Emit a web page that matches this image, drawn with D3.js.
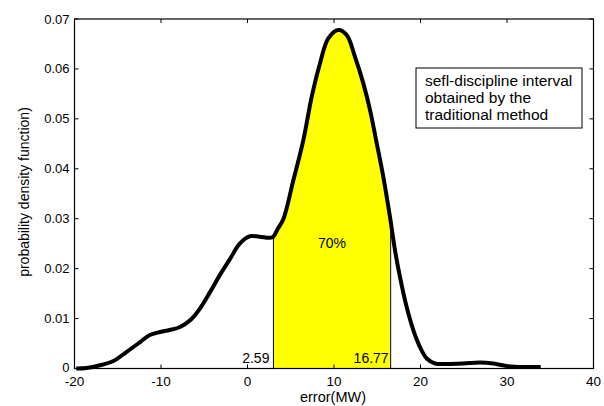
<!DOCTYPE html>
<html><head><meta charset="utf-8">
<script src="https://cdn.jsdelivr.net/npm/d3@7"></script>
<style>body{margin:0;background:#fff}svg{display:block}text{font-family:"Liberation Sans",Arial,sans-serif}</style>
</head><body><svg id="c" width="604" height="406"></svg>
<script>
const errorX = [-19.8,-18.6,-16.7,-15.5,-14.0,-12.4,-11.3,-10.1,-9.0,-7.8,-6.6,-5.5,-4.3,-3.2,-2.0,-0.9,0.3,1.4,2.9,3.5,4.14,5.30,6.45,7.42,8.38,9.34,10.5,11.47,12.43,13.39,14.16,14.94,15.70,16.47,17.05,17.62,18.40,19.17,19.94,20.72,21.68,23.03,24.95,26.88,28.42,29.97,31.9,33.9];
const density = [0,0.0001,0.0008,0.0015,0.0033,0.0053,0.0067,0.0073,0.0077,0.0083,0.0097,0.0120,0.0154,0.0187,0.0220,0.0250,0.0265,0.0264,0.0263,0.0280,0.0299,0.0377,0.0457,0.0544,0.0611,0.0661,0.0678,0.0668,0.0624,0.0571,0.0518,0.0451,0.0384,0.0304,0.0237,0.0184,0.0123,0.0077,0.0043,0.0020,0.0010,0.0009,0.0010,0.0012,0.0010,0.0005,0.0003,0.0003];
const intervalBounds = [3.0, 16.55];
const intervalLabels = ["2.59", "16.77"];
const percentLabel = "70%";
const xTicks = [-20,-10,0,10,20,30,40];
const yTicks = [0,0.01,0.02,0.03,0.04,0.05,0.06,0.07];
const legendLines = ["sefl-discipline interval","obtained by the","traditional method"];

const svg = d3.select("#c");
const L=74.5, R=593.5, T=19, B=368.5;
const x = d3.scaleLinear().domain([-20,40]).range([L,R]);
const y = d3.scaleLinear().domain([0,0.07]).range([B,T]);
const pts = errorX.map((v,i)=>[v,density[i]]);
const curve = d3.curveCatmullRom.alpha(0.5);

const interp = xv => { for(let i=0;i<pts.length-1;i++){ if(xv>=pts[i][0]&&xv<=pts[i+1][0]){const t=(xv-pts[i][0])/(pts[i+1][0]-pts[i][0]);return pts[i][1]+t*(pts[i+1][1]-pts[i][1]);} } return 0; };
const inside = [[intervalBounds[0], interp(intervalBounds[0])]].concat(pts.filter(p=>p[0]>intervalBounds[0]&&p[0]<intervalBounds[1])).concat([[intervalBounds[1], interp(intervalBounds[1])]]);
svg.append("path").datum(inside)
  .attr("d", d3.area().x(d=>x(d[0])).y0(y(0)).y1(d=>y(d[1])).curve(curve))
  .attr("fill","#ffff00");
intervalBounds.forEach(b=>{
  svg.append("line").attr("x1",x(b)).attr("x2",x(b)).attr("y1",y(0)).attr("y2",y(interp(b))).attr("stroke","#000").attr("stroke-width",1);
});

const g = svg.append("g");
g.append("rect").attr("x",L).attr("y",T).attr("width",R-L).attr("height",B-T).attr("fill","none").attr("stroke","#000").attr("stroke-width",1.2);
xTicks.forEach(t=>{
  g.append("line").attr("x1",x(t)).attr("x2",x(t)).attr("y1",B).attr("y2",B-4).attr("stroke","#000");
  g.append("line").attr("x1",x(t)).attr("x2",x(t)).attr("y1",T).attr("y2",T+4).attr("stroke","#000");
  g.append("text").attr("x",x(t)).attr("y",386).attr("text-anchor","middle").attr("font-size",13.5).text(t);
});
yTicks.forEach(t=>{
  g.append("line").attr("x1",L).attr("x2",L+4).attr("y1",y(t)).attr("y2",y(t)).attr("stroke","#000");
  g.append("line").attr("x1",R).attr("x2",R-4).attr("y1",y(t)).attr("y2",y(t)).attr("stroke","#000");
  g.append("text").attr("x",L-5).attr("y",y(t)+(t===0?3.5:4.5)).attr("text-anchor","end").attr("font-size",13).text(t===0?"0":d3.format(".2f")(t));
});

svg.append("path").datum(pts)
  .attr("d", d3.line().x(d=>x(d[0])).y(d=>y(d[1])).curve(curve))
  .attr("fill","none").attr("stroke","#000").attr("stroke-width",4).attr("stroke-linejoin","round");

svg.append("text").attr("x",x(intervalBounds[0])-4).attr("y",363).attr("text-anchor","end").attr("font-size",14).text(intervalLabels[0]);
svg.append("text").attr("x",x(intervalBounds[1])-2).attr("y",363).attr("text-anchor","end").attr("font-size",14).text(intervalLabels[1]);
svg.append("text").attr("x",332).attr("y",248).attr("text-anchor","middle").attr("font-size",14).text(percentLabel);

svg.append("text").attr("x",333).attr("y",401.5).attr("text-anchor","middle").attr("font-size",14.5).text("error(MW)");
svg.append("text").attr("transform","translate(29,192) rotate(-90)").attr("text-anchor","middle").attr("font-size",14).text("probability density function)");

svg.append("rect").attr("x",416).attr("y",68).attr("width",166).attr("height",60).attr("fill","#fff").attr("stroke","#000").attr("stroke-width",1);
legendLines.forEach((s,i)=>{
  svg.append("text").attr("x",425).attr("y",85.5+i*17).attr("font-size",15.5).text(s);
});
</script></body></html>
